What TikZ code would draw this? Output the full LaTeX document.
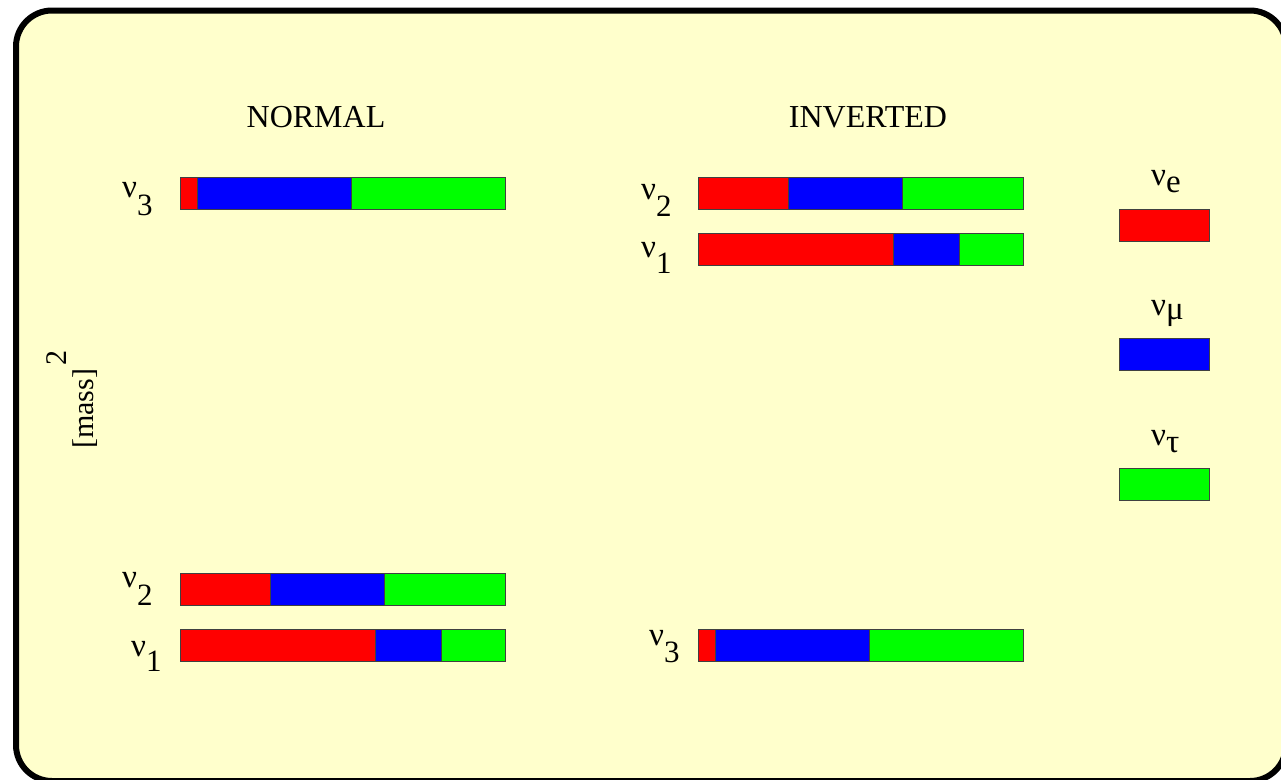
\documentclass[tikz,border=0pt]{standalone}
\usepackage{fontspec}
\setmainfont{Liberation Serif}
\definecolor{paper}{RGB}{255,255,204}
\definecolor{nured}{RGB}{255,0,0}
\definecolor{nublue}{RGB}{0,0,255}
\definecolor{nugreen}{RGB}{0,255,0}
\tikzset{
  seg/.style={draw=black!75, line width=0.8pt, minimum height=32pt,
    inner sep=0pt, outer sep=0pt, anchor=west},
  lbl/.style={inner sep=0pt, anchor=base west, font=\fontsize{33}{33}\selectfont},
  heading/.style={inner sep=0pt, anchor=base, font=\fontsize{32}{32}\selectfont},
}
% one mass state: name, x, y (centre line), widths of the e, mu, tau parts
\newcommand\nustate[6]{%
  \node[seg, fill=nured,   minimum width=#4pt] (#1e) at (#2,#3) {};
  \node[seg, fill=nublue,  minimum width=#5pt] (#1m) at (#1e.east) {};
  \node[seg, fill=nugreen, minimum width=#6pt] (#1t) at (#1m.east) {};
}
% nu with a lowered index
\newcommand\nulab[2]{ν\raisebox{#1}{\fontsize{31}{31}\selectfont #2}}
\begin{document}
\begin{tikzpicture}[x=1pt, y=-1pt]
  \useasboundingbox (0,0) rectangle (1281,779);
  \fill[white] (0,0) rectangle (1281,779);
  \clip (0,0) rectangle (1281,779);
  \draw[line width=6pt, fill=paper, rounded corners=36pt] (16,10.5) rectangle (1286,781);

  % headings
  \node[heading] (normal)   at (316,127) {NORMAL};
  \node[heading] (inverted) at (868,127) {INVERTED};

  % vertical axis label
  \node[inner sep=0pt, anchor=base west, rotate=90, font=\fontsize{30}{30}\selectfont]
    (mass) at (93,449) {[mass]\hspace{3pt}\raisebox{27pt}{\fontsize{30}{30}\selectfont 2}};

  % normal ordering
  \nustate{nthree}{180}{193}{17}{154}{154}
  \nustate{ntwo}{180}{589}{90}{114}{121}
  \nustate{none}{180}{645}{195}{66}{64}
  \node[lbl] (lnthree) at (122,197) {\nulab{-18pt}{3}};
  \node[lbl] (lntwo)   at (122,587) {\nulab{-18pt}{2}};
  \node[lbl] (lnone)   at (131,656) {\nulab{-15pt}{1}};

  % inverted ordering
  \nustate{itwo}{698}{193}{90}{114}{121}
  \nustate{ione}{698}{249}{195}{66}{64}
  \nustate{ithree}{698}{645}{17}{154}{154}
  \node[lbl] (litwo)   at (641,199) {\nulab{-17pt}{2}};
  \node[lbl] (lione)   at (641,257) {\nulab{-16pt}{1}};
  \node[lbl] (lithree) at (649,645) {\nulab{-17pt}{3}};

  % flavour key
  \node[seg, fill=nured,   minimum width=90pt] (keye) at (1119,225) {};
  \node[seg, fill=nublue,  minimum width=90pt] (keym) at (1119,354) {};
  \node[seg, fill=nugreen, minimum width=90pt] (keyt) at (1119,484) {};
  \node[lbl] (lkeye) at (1151,185) {ν\raisebox{-7pt}{e}};
  \node[lbl] (lkeym) at (1151,315) {ν\raisebox{-4pt}{μ}};
  \node[lbl] (lkeyt) at (1151,445) {ν\raisebox{-7pt}{τ}};
\end{tikzpicture}
\end{document}
